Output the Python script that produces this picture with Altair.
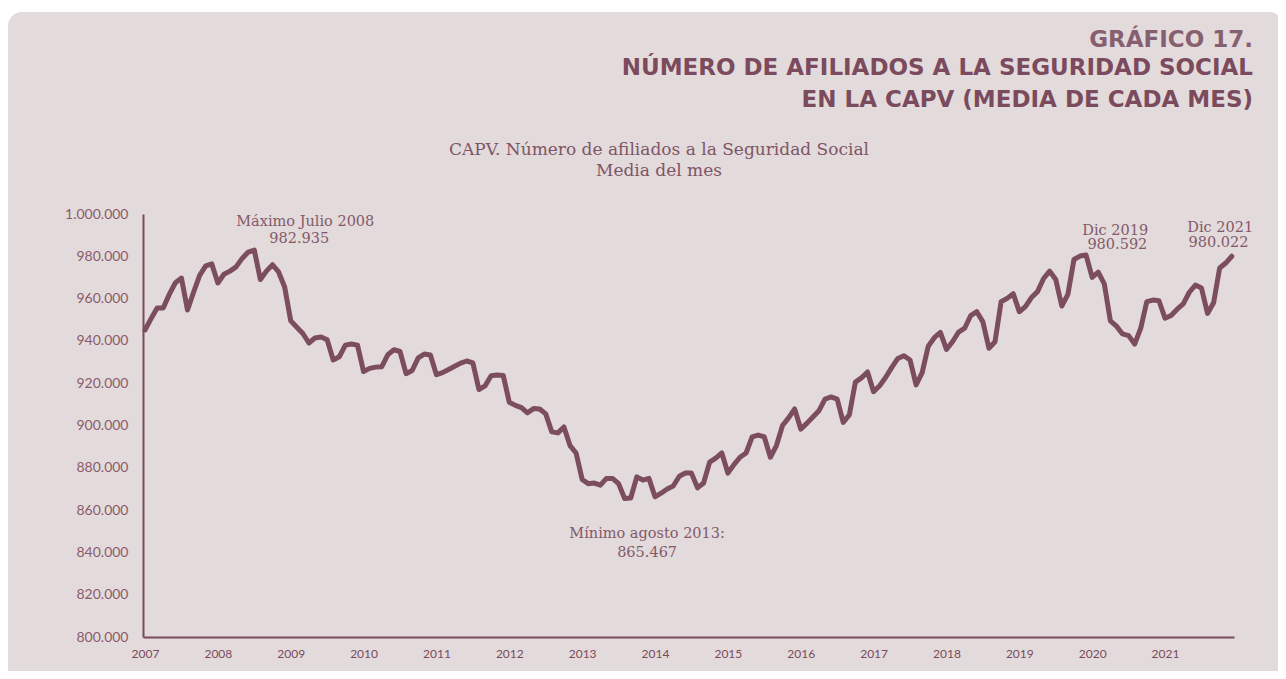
import altair as alt
import pandas as pd

# ---------------- data ----------------
years = list(range(2007, 2022))
afiliados = [
    945150, 950500, 955600, 955600, 962000, 967500, 969700, 954600, 963000, 971000, 975500, 976400,  # 2007
    967400, 971500, 973000, 975000, 979000, 982000, 982935, 969000, 973000, 976000, 972600, 965500,  # 2008
    949500, 946500, 943500, 939000, 941400, 941800, 940500, 931000, 932500, 938000, 938500, 938000,  # 2009
    925500, 927000, 927600, 927800, 933500, 935800, 935000, 924500, 926000, 932000, 933800, 933300,  # 2010
    924000, 925000, 926500, 928000, 929500, 930500, 929600, 917000, 918700, 923500, 923900, 923700,  # 2011
    911000, 909500, 908500, 906000, 908000, 907800, 905500, 897000, 896500, 899300, 890500, 887000,  # 2012
    874500, 872500, 872800, 871800, 875000, 875000, 872500, 865467, 865700, 875700, 874200, 875000,  # 2013
    866300, 868000, 870000, 871400, 876000, 877500, 877500, 870500, 872800, 882700, 884600, 887000,  # 2014
    877500, 881500, 885000, 887000, 894600, 895500, 894600, 885000, 890500, 900000, 903600, 907800,  # 2015
    898300, 901000, 904000, 907000, 912500, 913500, 912500, 901500, 905000, 920500, 922500, 925300,  # 2016
    916000, 918800, 922800, 927500, 931700, 933000, 931000, 919200, 925000, 937500, 941500, 944000,  # 2017
    936000, 939600, 944200, 946000, 952000, 953800, 949000, 936500, 939600, 958500, 960100, 962300,  # 2018
    953800, 956200, 960500, 963300, 969500, 973000, 969000, 956500, 962000, 978500, 980100, 980592,  # 2019
    970000, 972500, 967000, 949500, 947000, 943300, 942500, 938500, 946000, 958600, 959300, 959000,  # 2020
    950700, 952000, 955000, 957500, 963000, 966400, 965000, 953000, 958000, 974500, 976800, 980022,  # 2021
]
y_ticks = list(range(800000, 1000001, 20000))
x_ticks = [12 * i for i in range(len(years))]

ann_text = ["Máximo Julio 2008", "982.935", "Mínimo agosto 2013:", "865.467",
            "Dic 2019", "980.592", "Dic 2021", "980.022"]
ann_mes = [26.4, 25.4, 82.7, 82.7, 159.8, 160.15, 177.1, 176.8]
ann_valor = [994470, 986150, 846670, 837970, 990000, 983310, 991300, 984256]

title_lines = ["GRÁFICO 17.",
               "NÚMERO DE AFILIADOS A LA SEGURIDAD SOCIAL",
               "EN LA CAPV (MEDIA DE CADA MES)"]
subtitle_lines = ["CAPV. Número de afiliados a la Seguridad Social", "Media del mes"]

# ---------------- styles ----------------
BG = "#e3dadb"
LINE = "#7b4d5e"
DARK = "#7b4a5c"
LABEL = "#8b5a6c"
SERIF = "DejaVu Serif"

df = pd.DataFrame({"mes": list(range(len(afiliados))), "valor": afiliados})
ann = pd.DataFrame({"mes": ann_mes, "valor": ann_valor, "t": ann_text})
one = pd.DataFrame({"a": [0]})

x_scale = alt.Scale(domain=[-0.33, 179.36], nice=False, zero=False)
y_scale = alt.Scale(domain=[800000, 1000000], nice=False, zero=False)
x_axis = alt.Axis(values=x_ticks, labelExpr="'' + (2007 + datum.value / 12)",
                  grid=False, ticks=False, domainColor=DARK, domainWidth=2,
                  labelFont="Lato", labelFontSize=12, labelColor=DARK,
                  labelPadding=11, labelFlush=False, labelOverlap=False,
                  title=None, zindex=1)
y_axis = alt.Axis(values=y_ticks,
                  labelExpr="replace(format(datum.value, ','), regexp(',', 'g'), '.')",
                  grid=False, ticks=False, domainColor=DARK, domainWidth=2,
                  labelFont="Lato", labelFontSize=14, labelColor=LABEL,
                  labelPadding=15, labelFlush=False, labelOverlap=False,
                  title=None, zindex=1)
x_enc = alt.X("mes:Q", scale=x_scale, axis=x_axis)
y_enc = alt.Y("valor:Q", scale=y_scale, axis=y_axis)

panel = alt.Chart(one).mark_rect(color=BG, cornerRadius=14).encode(
    x=alt.value(-135), x2=alt.value(1140), y=alt.value(-202), y2=alt.value(480))

line = alt.Chart(df).mark_line(color=LINE, strokeWidth=5, strokeCap="round",
                               strokeJoin="round").encode(x=x_enc, y=y_enc)

annot = alt.Chart(ann).mark_text(font=SERIF, fontSize=14.5, color="#83596a",
                                 align="center", baseline="alphabetic").encode(
    x=x_enc, y=y_enc, text="t:N")

def txt(s, x, y, **kw):
    return alt.Chart(one).mark_text(text=s, **kw).encode(x=alt.value(x), y=alt.value(y))

t1 = txt(title_lines[0], 1110, -166.7, font="DejaVu Sans", fontWeight="bold",
         fontSize=23, color="#866070", align="right", baseline="alphabetic")
t2 = txt(title_lines[1], 1110, -139, font="DejaVu Sans", fontWeight="bold",
         fontSize=23, color=DARK, align="right", baseline="alphabetic")
t3 = txt(title_lines[2], 1110, -106.7, font="DejaVu Sans", fontWeight="bold",
         fontSize=23, color=DARK, align="right", baseline="alphabetic")
s1 = txt(subtitle_lines[0], 516, -59, font=SERIF, fontSize=17, color="#7e5565",
         align="center", baseline="alphabetic")
s2 = txt(subtitle_lines[1], 516, -38, font=SERIF, fontSize=17, color="#7e5565",
         align="center", baseline="alphabetic")

chart = alt.layer(panel, t1, t2, t3, s1, s2, line, annot).properties(
    width=1091, height=423,
    padding={"left": 135, "top": 206, "right": 44, "bottom": 34},
    autosize=alt.AutoSizeParams(type="none"),
    background="white",
).configure_view(strokeWidth=0)

chart.save("out.html", embed_options={"renderer": "svg", "actions": False})
